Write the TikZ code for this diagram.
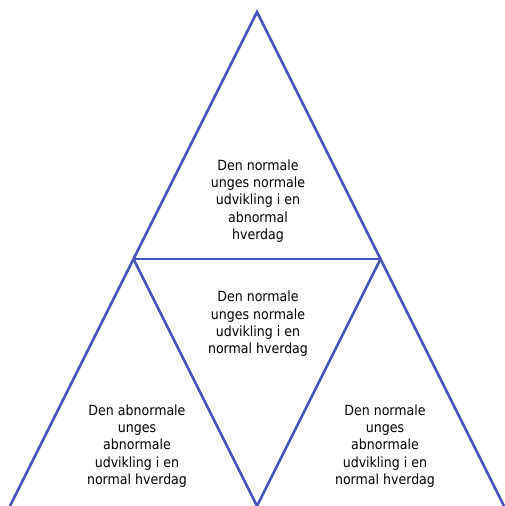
\documentclass[tikz,border=0pt]{standalone}
\usepackage{fontspec}
\setmainfont{DejaVu Sans Condensed}
\definecolor{triblue}{RGB}{68,84,184}
\begin{document}
\begin{tikzpicture}[x=1pt,y=-1pt,%
  % common options for the triangle sides:
  side/.style = {draw=triblue, line width=2.6pt, line join=miter},
  % common options for the texts:
  label/.style = {align=center, font=\fontsize{14}{17.3}\selectfont, inner sep=0}]
\useasboundingbox (0,0) rectangle (504,506);
\coordinate (T) at (257,12);
\coordinate (L) at (10,506);
\coordinate (R) at (504,506);
\coordinate (ML) at (133.5,259);
\coordinate (MR) at (380.5,259);
\coordinate (MB) at (257,506);
\draw[side] (L) -- (T) -- (R);
\draw[side] (ML) -- (MR);
\draw[side] (ML) -- (MB) -- (MR);
\node[label] (top) at (258,201) {Den normale\\unges normale\\udvikling i en\\abnormal\\hverdag};
\node[label] (mid) at (258,324) {Den normale\\unges normale\\udvikling i en\\normal hverdag};
\node[label] (left) at (137,446) {Den abnormale\\unges\\abnormale\\udvikling i en\\normal hverdag};
\node[label] (right) at (385,446) {Den normale\\unges\\abnormale\\udvikling i en\\normal hverdag};
\end{tikzpicture}
\end{document}
